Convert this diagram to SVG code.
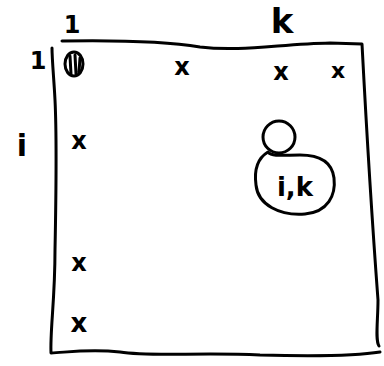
<svg xmlns="http://www.w3.org/2000/svg" width="384" height="366" viewBox="0 0 384 366">
<style>
.ink{fill:none;stroke:#000;stroke-width:3;stroke-linecap:round;stroke-linejoin:round}
.t{font-family:"DejaVu Sans","Liberation Sans",sans-serif;fill:#000;font-weight:bold}
</style>
<rect width="384" height="366" fill="#fff"/>
<g id="matrix">
<path class="ink" d="M62,41 C120,40 170,42 200,47 C240,52 280,44 330,43 L362,44 C366,120 372,220 378,300 C378,320 375,340 379,346 M380,352 C350,357 300,356 260,355 C200,352 150,357 120,352 C90,349 70,352 51,353 C50,330 55,300 55,250 C56,200 57,140 55,100 C54,80 52,60 52,48"/>
</g>
<g id="labels">
<text class="t" x="72" y="33" font-size="24" text-anchor="middle">1</text>
<text class="t" x="38" y="69" font-size="24" text-anchor="middle">1</text>
<text class="t" x="22" y="156" font-size="30" text-anchor="middle">i</text>
<text class="t" x="282" y="33" font-size="34" text-anchor="middle">k</text>
</g>
<g id="entries">
<ellipse class="ink" cx="74" cy="64" rx="9" ry="12" stroke-width="4"/>
<path class="ink" d="M70,56 L71,74 M75,55 L76,74 M80,58 L79,72" stroke-width="3"/>
<text class="t" x="182" y="75" font-size="24" text-anchor="middle">x</text>
<text class="t" x="79" y="149" font-size="24" text-anchor="middle">x</text>
<text class="t" x="281" y="80" font-size="24" text-anchor="middle">x</text>
<text class="t" x="338" y="78" font-size="22" text-anchor="middle">x</text>
<text class="t" x="79" y="271" font-size="24" text-anchor="middle">x</text>
<text class="t" x="79" y="332" font-size="26" text-anchor="middle">x</text>
</g>
<g id="pivot">
<circle class="ink" cx="279" cy="137" r="16"/>
<path class="ink" d="M268,152 C258,158 254,170 256,185 C258,205 280,216 305,214 C328,212 336,195 334,178 C332,162 320,155 300,155 C285,155 272,157 268,152 Z"/>
<text class="t" x="295" y="196" font-size="26" text-anchor="middle">i,k</text>
</g>
</svg>
